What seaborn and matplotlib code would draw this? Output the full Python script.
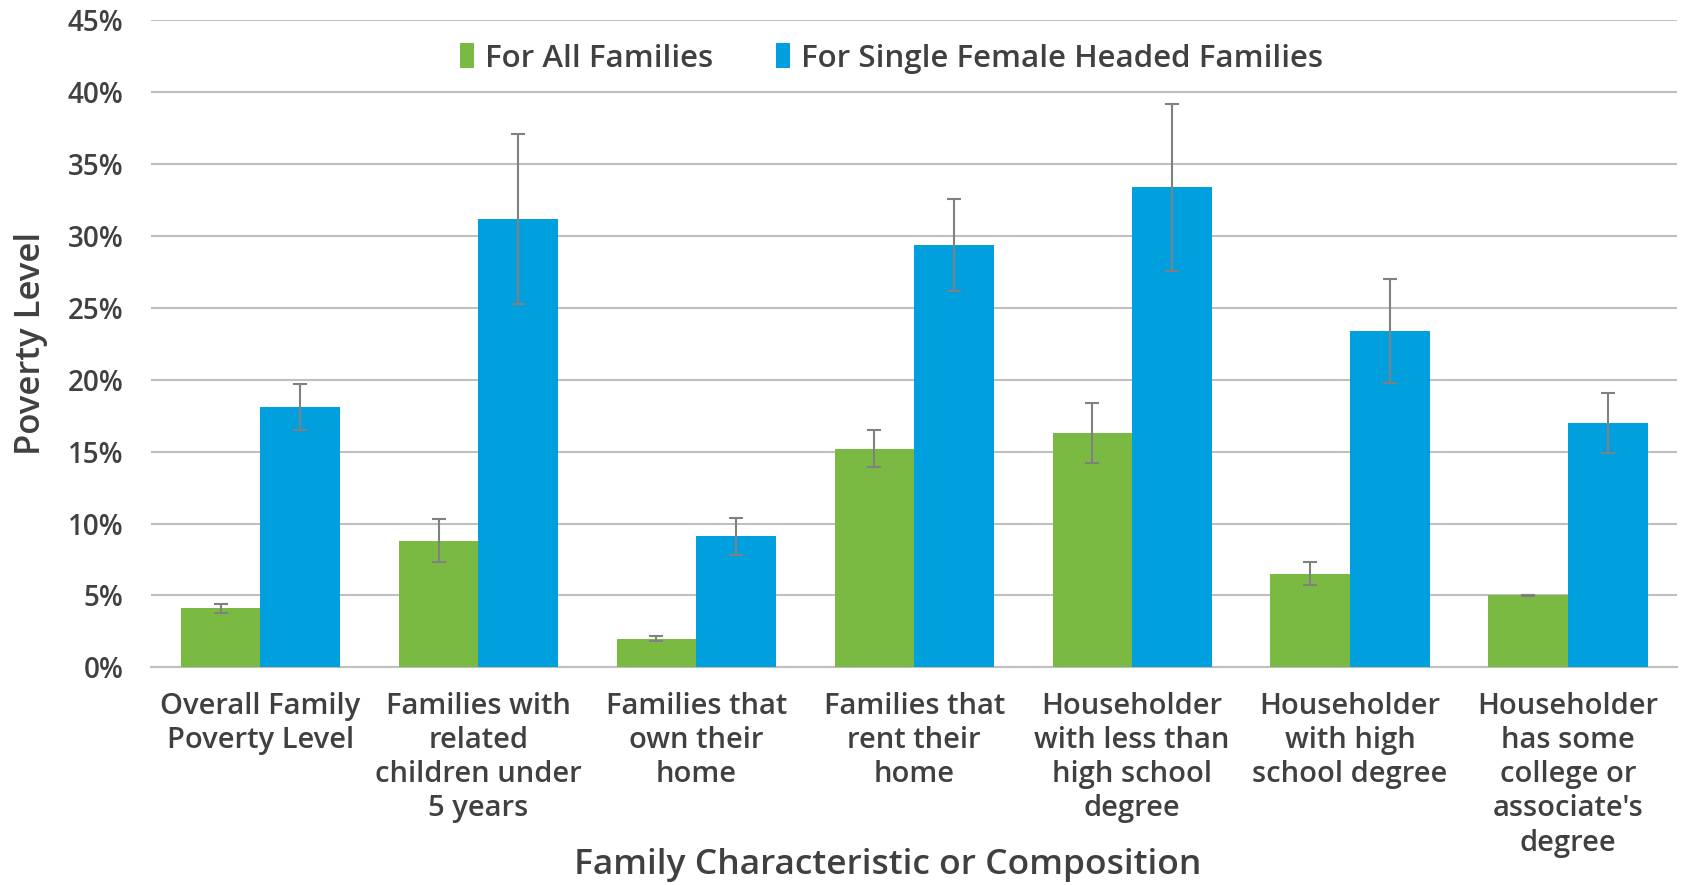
import pandas as pd
import numpy as np
import matplotlib
matplotlib.use('Agg')
import matplotlib.pyplot as plt
import seaborn as sns

categories = ['Overall Family\nPoverty Level',
              'Families with\nrelated\nchildren under\n5 years',
              'Families that\nown their\nhome',
              'Families that\nrent their\nhome',
              'Householder\nwith less than\nhigh school\ndegree',
              'Householder\nwith high\nschool degree',
              'Householder\nhas some\ncollege or\nassociate\'s\ndegree']
series = ['For All Families', 'For Single Female Headed Families']
all_families = [4.1, 8.8, 2.0, 15.2, 16.3, 6.5, 5.0]
all_err = [0.3, 1.5, 0.2, 1.3, 2.1, 0.8, 0.05]
single_female = [18.1, 31.2, 9.1, 29.4, 33.4, 23.4, 17.0]
single_err = [1.6, 5.9, 1.3, 3.2, 5.8, 3.6, 2.1]

df = pd.DataFrame({
    'cat': categories * 2,
    'group': [series[0]] * 7 + [series[1]] * 7,
    'val': all_families + single_female,
    'err': all_err + single_err,
})

sns.set_style('white')
plt.rcParams['font.family'] = ['Open Sans', 'DejaVu Sans']
plt.rcParams['font.weight'] = 'semibold'
txt = '#404040'

fig = plt.figure(figsize=(16.82, 8.85), dpi=100)
ax = fig.add_axes([0.090, 0.246, 0.907, 0.731])

sns.barplot(data=df, x='cat', y='val', hue='group', order=categories,
            hue_order=series, palette=['#7ABA42', '#00A0DF'],
            width=0.73, gap=0, errorbar=None, saturation=1,
            linewidth=0, ax=ax, zorder=3)

# error bars at the bar centres
for cont, g in zip(ax.containers, series):
    sub = df[df['group'] == g]
    xs = [p.get_x() + p.get_width() / 2 for p in cont.patches]
    ax.errorbar(xs, sub['val'], yerr=sub['err'], fmt='none', ecolor='#808080',
                elinewidth=1.5, capsize=5, capthick=1.5, zorder=4)

ax.set_ylim(0, 45)
ax.set_xlim(-0.5, 6.5)
ax.set_yticks(np.arange(0, 46, 5))
ax.set_yticklabels([f'{v}%' for v in range(0, 46, 5)], fontsize=20, color=txt)
ax.set_xticks(range(7))
ax.set_xticklabels(categories, fontsize=21, color=txt, linespacing=1.23)
ax.tick_params(axis='y', length=0, pad=20)
ax.tick_params(axis='x', length=0, pad=18)
ax.yaxis.grid(True, color='#BFBFBF', linewidth=1.5, zorder=0)
for s in ['top', 'left', 'right']:
    ax.spines[s].set_visible(False)
ax.spines['bottom'].set_color('#BFBFBF')
ax.spines['bottom'].set_linewidth(1.5)
ax.set_xlabel('Family Characteristic or Composition', fontsize=25.5, color=txt,
              fontweight='semibold', va='bottom')
ax.xaxis.set_label_coords(0.528, 0.003, transform=fig.transFigure)
ax.set_ylabel('Poverty Level', fontsize=25, color=txt, fontweight='semibold', labelpad=14)

leg = ax.legend(loc='upper center', bbox_to_anchor=(0.485, 1.008), ncol=2, frameon=False,
                fontsize=22.5, handlelength=0.45, handleheight=0.85, handletextpad=0.35,
                columnspacing=2.0)
for t in leg.get_texts():
    t.set_color(txt)

fig.savefig('out.png', dpi=100)
